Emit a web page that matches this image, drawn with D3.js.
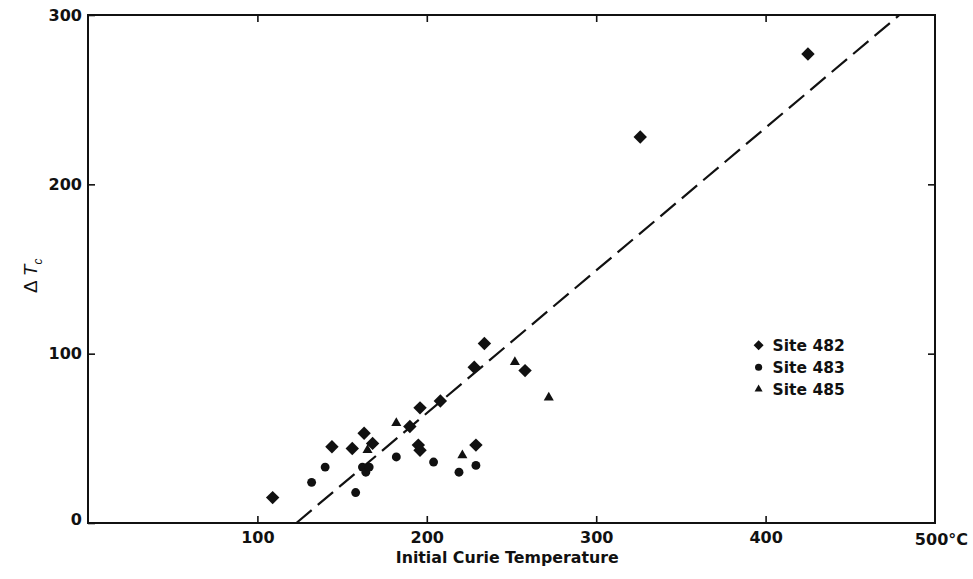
<!DOCTYPE html>
<html>
<head>
<meta charset="utf-8">
<script src="https://cdn.jsdelivr.net/npm/d3@7"></script>
<style>
  body { margin: 0; background: #fff; }
  text { font-family: "DejaVu Sans", Arial, sans-serif; font-weight: bold; fill: #111; }
</style>
</head>
<body>
<div id="main"></div>
<script>
// Data: [initial Curie temperature, delta Tc]
var site482 = [
  [109, 15], [144, 45], [156, 44], [163, 53], [168, 47], [190, 57],
  [196, 68], [195, 46], [196, 43], [208, 72], [228, 92], [234, 106],
  [229, 46], [258, 90], [326, 228], [425, 277]
];
var site483 = [
  [132, 24], [140, 33], [158, 18], [162, 33], [164, 30], [166, 33],
  [182, 39], [204, 36], [219, 30], [229, 34]
];
var site485 = [
  [182, 59], [165, 43], [221, 40], [252, 95], [272, 74]
];
var fitLine = [[123, 0], [479, 300]];
var xTicks = [100, 200, 300, 400];
var yTicks = [0, 100, 200, 300];
var legendLabels = ["Site 482", "Site 483", "Site 485"];

var width = 973, height = 579;
var margin = {top: 15, right: 38, bottom: 56, left: 88};
var w = width - margin.left - margin.right,
    h = height - margin.top - margin.bottom;

var translate = function(x, y) { return "translate(" + x + "," + y + ")"; };

var x = d3.scaleLinear().domain([0, 500]).range([0, w]);
var y = d3.scaleLinear().domain([0, 300]).range([h, 0]);

var svg = d3.select("#main").append("svg")
    .attr("width", width)
    .attr("height", height)
  .append("g")
    .attr("transform", translate(margin.left, margin.top));

// frame
svg.append("rect")
    .attr("width", w).attr("height", h)
    .attr("fill", "none").attr("stroke", "#111").attr("stroke-width", 2);

// bottom axis
var xAxis = svg.append("g")
    .attr("transform", translate(0, h))
    .call(d3.axisBottom(x).tickValues(xTicks).tickSizeInner(-7).tickSizeOuter(0).tickPadding(11));
xAxis.append("text")
    .attr("x", x(500) + 33).attr("y", 22)
    .attr("text-anchor", "end")
    .attr("font-size", 16)
    .text("500°C");

// top axis
svg.append("g")
    .call(d3.axisTop(x).tickValues(xTicks).tickSizeInner(-7).tickSizeOuter(0).tickFormat(""));

// left axis
var yAxis = svg.append("g")
    .call(d3.axisLeft(y).tickValues(yTicks).tickSizeInner(-7).tickSizeOuter(0).tickPadding(6));

// right axis
svg.append("g")
    .attr("transform", translate(w, 0))
    .call(d3.axisRight(y).tickValues([100, 200]).tickSizeInner(-7).tickSizeOuter(0).tickFormat(""));

svg.selectAll(".domain").remove();
svg.selectAll(".tick line").attr("stroke", "#111").attr("stroke-width", 1.6);
svg.selectAll(".tick text")
    .attr("font-size", 16)
    .attr("fill", "#111")
    .style("font-family", "'DejaVu Sans', Arial, sans-serif")
    .style("font-weight", "bold");
xAxis.selectAll(".tick text").attr("dy", "0.55em");
yAxis.selectAll(".tick").filter(function(d) { return d === 0; }).select("text").attr("dy", "0.1em");

// axis titles
svg.append("text")
    .attr("x", x(247.5)).attr("y", h + 40)
    .attr("text-anchor", "middle")
    .attr("font-size", 15.8)
    .text("Initial Curie Temperature");

var yl = svg.append("text")
    .attr("transform", translate(-51, y(146)) + " rotate(-90)")
    .attr("text-anchor", "middle")
    .attr("font-size", 19)
    .style("font-family", "'Liberation Sans', Arial, sans-serif")
    .style("font-weight", "normal");
yl.append("tspan").text("Δ");
yl.append("tspan").attr("dx", 4).style("font-style", "italic").text("T");
yl.append("tspan").attr("dy", 5).attr("font-size", 12).style("font-style", "italic").text("c");

// fit line
svg.append("line")
    .attr("x1", x(fitLine[0][0])).attr("y1", y(fitLine[0][1]))
    .attr("x2", x(fitLine[1][0])).attr("y2", y(fitLine[1][1]))
    .attr("stroke", "#111").attr("stroke-width", 2.2)
    .attr("stroke-dasharray", "20,8");

// markers
var diamond = d3.symbol().type(d3.symbolSquare).size(90);
var circle = d3.symbol().type(d3.symbolCircle).size(62);
var triangle = d3.symbol().type(d3.symbolTriangle).size(44);

function plot(data, sym, rot) {
  svg.append("g").selectAll("path")
      .data(data)
      .enter().append("path")
        .attr("d", sym)
        .attr("transform", function(d) {
          return translate(x(d[0]), y(d[1])) + (rot ? " rotate(45)" : "");
        })
        .attr("fill", "#111");
}
plot(site483, circle, false);
plot(site485, triangle, false);
plot(site482, diamond, true);

// legend
var legSyms = [
  {sym: d3.symbol().type(d3.symbolSquare).size(50), rot: true},
  {sym: d3.symbol().type(d3.symbolCircle).size(40), rot: false},
  {sym: d3.symbol().type(d3.symbolTriangle).size(28), rot: false}
];
var legend = svg.append("g").attr("transform", translate(x(400) - 7, y(105)));
var rows = legend.selectAll("g")
    .data(legendLabels)
    .enter().append("g")
      .attr("transform", function(d, i) { return translate(0, i * 22); });
rows.append("path")
    .attr("d", function(d, i) { return legSyms[i].sym(); })
    .attr("transform", function(d, i) { return legSyms[i].rot ? "rotate(45)" : ""; })
    .attr("fill", "#111");
rows.append("text")
    .attr("x", 14).attr("dy", "0.36em")
    .attr("font-size", 15.5)
    .text(function(d) { return d; });
</script>
</body>
</html>
